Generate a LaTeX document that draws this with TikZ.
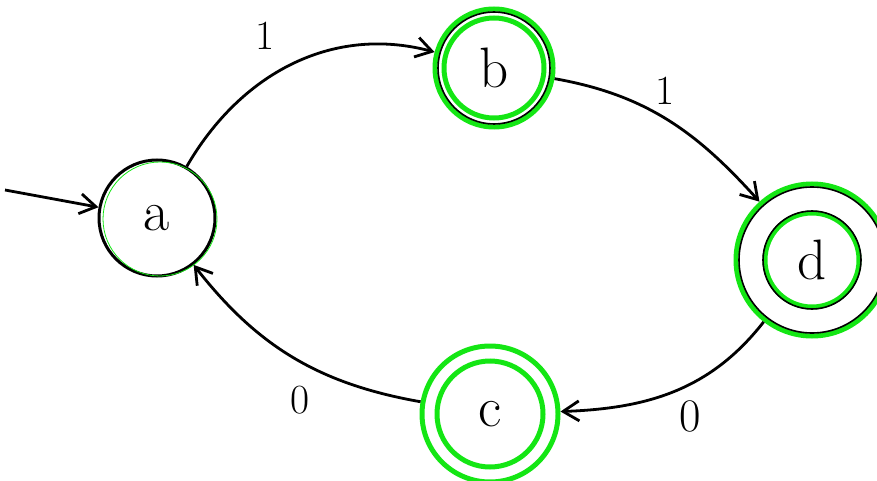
\documentclass[tikz,border=0pt]{standalone}
\usepackage{graphicx}
\usetikzlibrary{arrows.meta}
\definecolor{penGreen}{RGB}{20,230,20}
\newcommand{\handtxt}[2]{\scalebox{#1}{#2}}

\begin{document}
\begin{tikzpicture}[x=1pt,y=1pt,font=\fontsize{17.28}{17.28}\selectfont,
  statenode/.style={circle,draw,line width=3pt,inner sep=0pt},
  greenring/.style={draw=penGreen,line width=5pt},
  blackring/.style={draw=black,line width=1.6pt},
  penline/.style={line width=2.8pt,-{Straight Barb[length=16pt,width=20pt]}},
  lbl/.style={inner sep=0pt}]
  \useasboundingbox (0,0) rectangle (877,480);
  % states
  \node[statenode,minimum size=116pt] (a) at (157,262) {\handtxt{3.3}{a}};
  \node[statenode,greenring,minimum size=118pt] (b) at (494,412) {\handtxt{3.3}{b}};
  \node[statenode,greenring,minimum size=152pt] (d) at (812,220) {\handtxt{3.3}{d}};
  \node[statenode,greenring,minimum size=136pt] (c) at (490,66) {\handtxt{3.3}{c}};
  % inner rings of the accepting states
  \draw[penGreen,line width=0.8pt] (a) ++(3,-1) circle[radius=57pt];
  \draw[greenring] (b) circle[radius=50pt];
  \draw[blackring] (b) circle[radius=56pt];
  \draw[greenring] (d) circle[radius=47pt];
  \draw[blackring] (d) circle[radius=49pt];
  \draw[blackring] (d) circle[radius=73pt];
  \draw[greenring] (c) circle[radius=53pt];
  % start arrow
  \coordinate (start) at (5,290);
  \draw[penline] (start) -- (a);
  % transitions
  \draw[penline] (a) to[out=60,in=165] (b);
  \draw[penline] (b) to[out=-10,in=132] (d);
  \draw[penline] (d) to[out=232,in=2] (c);
  \draw[penline] (c) to[out=170,in=-52] (a);
  % labels
  \node[lbl] (lab1) at (265,444) {\handtxt{2.4}{1}};
  \node[lbl] (lab2) at (665,389) {\handtxt{2.4}{1}};
  \node[lbl] (lab3) at (690,64) {\handtxt{2.7}{0}};
  \node[lbl] (lab4) at (300,80) {\handtxt{2.4}{0}};
\end{tikzpicture}
\end{document}
